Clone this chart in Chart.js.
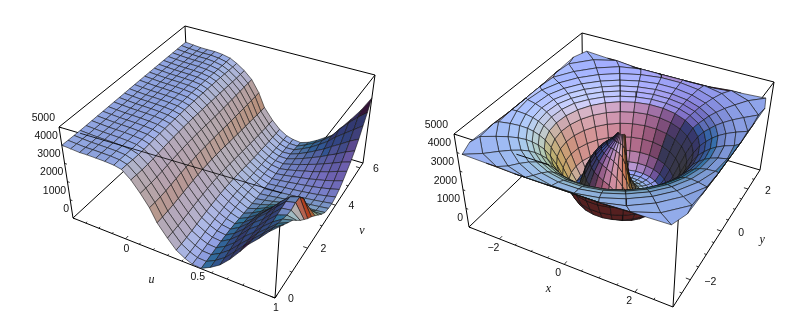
<!DOCTYPE html>
<html>
<head>
<meta charset="utf-8">
<script src="https://cdn.jsdelivr.net/npm/chart.js@4"></script>
<style>body{margin:0;background:#fff}canvas{display:block}</style>
</head>
<body>
<canvas id="surfaces" width="800" height="327"></canvas>
<script>
// left plot, grid over u (rows) and v (columns), heights
var uValues = [-0.4,-0.34,-0.28,-0.23,-0.17,-0.11,-0.05,0,0.06,0.12,0.18,0.23,0.3,0.36,0.42,0.47,0.53,0.59,0.65,0.71,0.77,0.82,0.88,0.94,1];
var vValues = [0,0.26,0.52,0.79,1.05,1.31,1.57,1.83,2.09,2.36,2.62,2.88,3.14,3.4,3.67,3.93,4.19,4.45,4.71,4.97,5.24,5.5,5.76,6.02,6.28];
var uvHeights = [
[4000,3990,3985,3980,3985,3990,3995,4000,4005,4010,4015,4020,4025,4030,4035,4040,4040,4045,4045,4050,4050,4050,4055,4055,4050],
[3950,3945,3940,3940,3945,3950,3955,3960,3965,3970,3975,3980,3985,3990,3995,4000,4000,4005,4005,4010,4010,4010,4010,4005,4000],
[3900,3900,3900,3905,3910,3915,3920,3925,3930,3935,3940,3945,3950,3955,3960,3965,3970,3970,3975,3975,3975,3975,3975,3970,3960],
[3900,3895,3890,3890,3895,3900,3905,3910,3915,3920,3925,3930,3935,3940,3945,3950,3955,3955,3960,3960,3960,3960,3955,3950,3950],
[3875,3875,3870,3870,3875,3880,3885,3890,3895,3900,3905,3910,3915,3920,3925,3930,3935,3935,3940,3945,3945,3950,3950,3950,3950],
[3850,3850,3845,3840,3840,3845,3850,3860,3865,3870,3875,3880,3885,3890,3895,3900,3905,3905,3910,3910,3905,3905,3900,3900,3900],
[3800,3800,3790,3780,3780,3790,3800,3810,3815,3820,3825,3830,3835,3840,3840,3845,3845,3840,3840,3830,3820,3810,3800,3800,3800],
[3700,3680,3650,3640,3640,3660,3680,3700,3710,3720,3725,3730,3730,3730,3725,3720,3710,3700,3690,3680,3660,3640,3620,3600,3600],
[3300,3280,3260,3260,3280,3310,3340,3370,3390,3400,3410,3410,3410,3400,3390,3380,3370,3360,3350,3340,3320,3310,3300,3300,3300],
[2750,2730,2720,2730,2760,2800,2830,2860,2880,2900,2910,2910,2900,2890,2880,2870,2870,2870,2880,2880,2890,2890,2900,2900,2900],
[2150,2130,2130,2150,2190,2230,2270,2300,2320,2340,2350,2350,2340,2330,2320,2300,2290,2280,2270,2260,2260,2250,2250,2250,2250],
[1500,1500,1510,1540,1580,1620,1660,1700,1730,1750,1760,1760,1750,1730,1710,1680,1660,1630,1610,1590,1570,1550,1530,1510,1500],
[900,910,930,960,1000,1050,1090,1130,1160,1180,1190,1190,1170,1150,1120,1090,1060,1030,1000,980,960,940,920,910,900],
[450,460,490,520,570,620,660,700,730,750,760,750,730,710,680,650,620,590,570,550,530,520,510,500,500],
[200,210,240,280,320,360,400,430,450,470,480,470,450,430,410,380,360,340,320,300,290,270,260,250,250],
[50,70,100,140,180,210,240,260,280,290,290,280,270,250,230,210,200,190,180,170,160,150,150,150,150],
[20,50,80,110,140,160,170,160,140,120,100,80,60,50,50,55,70,90,110,130,150,170,170,140,100],
[250,280,320,360,400,420,420,390,350,300,240,180,130,100,90,95,115,150,190,240,290,330,360,340,250],
[550,600,660,720,780,810,800,740,660,550,440,320,220,160,130,140,170,220,290,370,450,530,590,580,500],
[1000,1060,1120,1200,1270,1300,1280,1200,1050,870,680,480,320,220,170,180,230,300,410,520,640,770,880,880,800],
[1550,1560,1570,1590,1620,1650,1680,1650,1450,1200,900,620,400,270,210,230,290,380,520,670,830,1020,1200,1250,1100],
[2050,2020,2000,2000,2020,2050,2100,2080,1850,1450,1050,700,440,320,260,280,350,470,640,820,1030,1270,1550,1750,1650],
[2500,2450,2400,2400,2450,2500,2550,2500,2200,1700,1200,750,480,370,320,340,430,570,780,1000,1250,1550,1900,2250,2250],
[3000,2900,2800,2700,2600,2550,2650,2650,2300,1700,1150,750,500,420,380,420,530,700,950,1200,1500,1850,2250,2700,2900],
[3400,3200,3000,2800,2500,2200,1950,1700,1500,1250,1000,750,550,480,450,520,650,850,1100,1350,1700,2100,2600,3100,3700]
];

// right plot, grid over radius (rows) and angle (columns), heights
var radii = [0.12,0.25,0.4,0.55,0.7,0.85,1,1.15,1.3,1.45,1.6,1.75,1.9,2.05,2.2,2.35,2.5,2.7,2.95,3.25,3.65,4.25];
var angles = [0,12,24,36,48,60,72,84,96,108,120,132,144,156,168,180,192,204,216,228,240,252,264,276,288,300,312,324,336,348,360];
var rtHeights = [
[2000,2000,2000,2000,2000,2000,2100,2100,2200,2300,2400,2600,2800,3000,3300,3500,3520,3540,3560,3580,3600,3600,3600,3600,3600,3600,3600,3600,3550,2600,2000],
[1000,1000,1000,1000,1000,1000,1050,1100,1150,1200,1300,1400,1600,2100,2800,3200,3230,3260,3280,3300,3300,3300,3300,3280,3250,3200,3000,2600,1900,1300,1000],
[500,500,500,500,500,500,520,540,570,600,650,750,900,1400,2300,2950,3000,3020,3040,3050,3050,3050,3040,3000,2900,2700,2300,1700,1200,800,500],
[250,250,250,250,250,250,260,270,280,300,330,380,450,900,1800,2700,2730,2750,2780,2780,2780,2760,2700,2600,2400,2050,1600,1100,700,400,250],
[150,150,150,150,150,150,150,155,160,170,180,200,250,500,1300,2400,2420,2430,2440,2440,2420,2380,2300,2150,1900,1500,1050,700,400,230,150],
[100,100,100,100,100,100,100,100,105,110,115,120,130,250,850,2000,2000,2000,2000,1980,1950,1900,1800,1650,1350,1000,680,430,260,150,100],
[100,100,100,100,100,100,100,100,100,100,100,100,110,130,450,1500,1480,1450,1420,1380,1330,1250,1150,1000,780,560,370,240,160,110,100],
[150,150,150,150,150,150,150,150,150,150,150,150,150,160,220,700,680,650,600,550,500,430,380,320,270,220,180,160,150,150,150],
[450,450,450,450,450,450,450,450,450,450,450,450,450,450,450,450,450,450,450,450,450,450,450,450,450,450,450,450,450,450,450],
[900,900,900,900,900,900,900,900,900,900,900,900,900,900,900,900,900,900,900,900,900,900,900,900,900,900,900,900,900,900,900],
[1500,1500,1500,1500,1500,1500,1500,1500,1500,1500,1500,1500,1500,1500,1500,1500,1500,1500,1500,1500,1500,1500,1500,1500,1500,1500,1500,1500,1500,1500,1500],
[2100,2100,2100,2100,2100,2100,2100,2100,2100,2100,2100,2100,2100,2100,2100,2100,2100,2100,2100,2100,2100,2100,2100,2100,2100,2100,2100,2100,2100,2100,2100],
[2600,2600,2600,2600,2600,2600,2600,2600,2600,2600,2600,2600,2600,2600,2600,2600,2600,2600,2600,2600,2600,2600,2600,2600,2600,2600,2600,2600,2600,2600,2600],
[3000,3000,3000,3000,3000,3000,3000,3000,3000,3000,3000,3000,3000,3000,3000,3000,3000,3000,3000,3000,3000,3000,3000,3000,3000,3000,3000,3000,3000,3000,3000],
[3250,3250,3250,3250,3200,3180,3160,3150,3150,3150,3160,3180,3200,3250,3250,3250,3250,3250,3250,3250,3250,3250,3250,3250,3250,3250,3250,3250,3250,3250,3250],
[3450,3450,3450,3400,3350,3320,3300,3280,3280,3280,3300,3320,3350,3400,3450,3450,3450,3450,3450,3450,3450,3450,3450,3450,3450,3450,3450,3450,3450,3450,3450],
[3600,3600,3600,3550,3500,3460,3440,3420,3420,3420,3440,3460,3500,3550,3600,3600,3600,3600,3600,3600,3600,3600,3600,3600,3600,3600,3600,3600,3600,3600,3600],
[3730,3730,3730,3680,3630,3590,3570,3560,3560,3560,3570,3590,3630,3680,3730,3730,3730,3730,3730,3730,3730,3730,3730,3730,3730,3730,3730,3730,3730,3730,3730],
[3830,3830,3830,3790,3750,3720,3700,3680,3680,3680,3700,3720,3750,3790,3830,3830,3830,3830,3830,3830,3830,3830,3830,3830,3830,3830,3830,3830,3830,3830,3830],
[3900,3900,3900,3870,3840,3820,3800,3790,3790,3790,3800,3820,3840,3870,3900,3900,3900,3900,3900,3900,3900,3900,3900,3900,3900,3900,3900,3900,3900,3900,3900],
[3960,3960,3960,3950,3930,3920,3910,3900,3900,3900,3910,3920,3930,3950,3960,3960,3960,3960,3960,3960,3960,3960,3960,3960,3960,3960,3960,3960,3960,3960,3960],
[4000,4000,4000,4000,4000,4000,4000,4000,4000,4000,4000,4000,4000,4000,4000,4000,4000,4000,4000,4000,4000,4000,4000,4000,4000,4000,4000,4000,4000,4000,4000]
];

// tick labels
var zTicks = [0,1000,2000,3000,4000,5000];
var uTicks = [0,0.5,1];
var vTicks = [0,2,4,6];
var xTicks = [-2,0,2];
var yTicks = [-2,0,2];
var uMinor = [-0.3,-0.2,-0.1,0.1,0.2,0.3,0.4,0.6,0.7,0.8,0.9];
var vMinor = [1,3,5];
var xMinor = [-2.5,-1.5,-1,-0.5,0.5,1,1.5,2.5];
var yMinor = [-2.5,-1.5,-1,-0.5,0.5,1,1.5,2.5];

var Z_MAX = 5000;
var TWO_PI_V = 6.28;

// box corners on the page: front-left, front-right, back-right, back-left
var leftBox = {
  base: [[73,218],[275,298],[363,163],[189,111]],
  top: [[59,127],[282,193],[375,75],[185,26]]
};
var rightBox = {
  base: [[469,227],[673,307],[760,170],[583,118]],
  top: [[454,134],[679,207],[774,82],[582,33]]
};

function squareToQuad(q) {
  var dx1 = q[1][0]-q[2][0], dx2 = q[3][0]-q[2][0], sx = q[0][0]-q[1][0]+q[2][0]-q[3][0];
  var dy1 = q[1][1]-q[2][1], dy2 = q[3][1]-q[2][1], sy = q[0][1]-q[1][1]+q[2][1]-q[3][1];
  var den = dx1*dy2-dx2*dy1;
  var g = (sx*dy2-dx2*sy)/den, h = (dx1*sy-sx*dy1)/den;
  var a = q[1][0]-q[0][0]+g*q[1][0], b = q[3][0]-q[0][0]+h*q[3][0];
  var d = q[1][1]-q[0][1]+g*q[1][1], e = q[3][1]-q[0][1]+h*q[3][1];
  return function(s, t) {
    var w = g*s+h*t+1;
    return [(a*s+b*t+q[0][0])/w, (d*s+e*t+q[0][1])/w];
  };
}

function makeProject(box) {
  var lo = squareToQuad(box.base), hi = squareToQuad(box.top);
  return function(s, t, c) {
    var p = lo(s,t), q = hi(s,t);
    return {x: p[0]+(q[0]-p[0])*c, y: p[1]+(q[1]-p[1])*c};
  };
}

// viewer frame in box units
var VR = [0.879,0.476,0], VU = [-0.281,0.519,0.806], VW = [0.384,-0.709,0.59];
var Z_RATIO = 0.45;
function dot(a,b){ return a[0]*b[0]+a[1]*b[1]+a[2]*b[2]; }

function shade(p, dim, burn) {
  // p: four box points, normal from the diagonals
  var d1 = [p[2][0]-p[0][0],p[2][1]-p[0][1],(p[2][2]-p[0][2])*Z_RATIO];
  var d2 = [p[3][0]-p[1][0],p[3][1]-p[1][1],(p[3][2]-p[1][2])*Z_RATIO];
  var n = [d1[1]*d2[2]-d1[2]*d2[1], d1[2]*d2[0]-d1[0]*d2[2], d1[0]*d2[1]-d1[1]*d2[0]];
  var len = Math.sqrt(dot(n,n)) || 1;
  n = [n[0]/len,n[1]/len,n[2]/len];
  if (n[2] < 0) n = [-n[0],-n[1],-n[2]];
  var nr = dot(n,VR), nu = dot(n,VU), nw = dot(n,VW);
  if (nw < 0) return 'rgb(85,32,32)';
  var r = Math.max(0,(nr+nw)/1.414), g = Math.max(0,(nr+nu+nw)/1.732), b = Math.max(0,(nu+nw)/1.414);
  var head = Math.max(0,nw-0.72), low = burn*Math.max(0,0.62-b);
  var R = 55+150*Math.sqrt(r)+75*head;
  var G = 55+200*Math.pow(g,1.5)-60*r+220*head-700*low;
  var B = 120+240*(b-0.637)+90*r*b+75*head-600*low;
  var c = function(v){ return Math.round(Math.min(255,Math.max(20,v*dim))); };
  return 'rgb('+c(R)+','+c(G)+','+c(B)+')';
}

function surface(project, rows, cols, pointAt, lineColor, dim, burnFrom) {
  var quads = [];
  for (var i = 0; i < rows-1; i++) {
    for (var j = 0; j < cols-1; j++) {
      var p = [pointAt(i,j),pointAt(i+1,j),pointAt(i+1,j+1),pointAt(i,j+1)];
      var cx = (p[0][0]+p[1][0]+p[2][0]+p[3][0])/4;
      var cy = (p[0][1]+p[1][1]+p[2][1]+p[3][1])/4;
      var cz = (p[0][2]+p[1][2]+p[2][2]+p[3][2])/4*Z_RATIO;
      var pts = p.map(function(k){ return project(k[0],k[1],k[2]); });
      pts.push(pts[0]);
      quads.push({depth: dot([cx-0.5,cy-0.5,cz],VW), data: pts, color: shade(p,dim,i >= burnFrom ? 1 : 0)});
    }
  }
  // chart.js paints the first dataset last, nearest quads go first
  quads.sort(function(a,b){ return b.depth-a.depth; });
  return quads.map(function(q) {
    return {
      data: q.data, showLine: true, fill: 'shape', backgroundColor: q.color,
      borderColor: lineColor, borderWidth: 0.6, pointRadius: 0, tension: 0, clip: false
    };
  });
}

function lineSet(a, b, width) {
  return {data: [a,b], showLine: true, fill: false, borderColor: '#000', borderWidth: width, pointRadius: 0, tension: 0, clip: false};
}

function boxLines(project) {
  var out = [], corners = [[0,0],[1,0],[1,1],[0,1]];
  for (var i = 0; i < 4; i++) {
    var a = corners[i], b = corners[(i+1)%4];
    out.push(lineSet(project(a[0],a[1],0),project(b[0],b[1],0),1));
    out.push(lineSet(project(a[0],a[1],1),project(b[0],b[1],1),1));
    out.push(lineSet(project(a[0],a[1],0),project(a[0],a[1],1),1));
  }
  return out;
}

function tickLines(project, sOf, tOf) {
  var out = [];
  zTicks.forEach(function(z) {
    out.push(lineSet(project(0,0,z/Z_MAX),project(0.012,0,z/Z_MAX),0.8));
  });
  function along(list, fn, len) {
    list.forEach(function(v) { out.push(fn(v,len)); });
  }
  var onS = function(v,len){ var s = sOf(v); return lineSet(project(s,0,0),project(s,len,0),0.8); };
  var onT = function(v,len){ var t = tOf(v); return lineSet(project(1,t,0),project(1-len,t,0),0.8); };
  return {z: out, onS: onS, onT: onT, along: along};
}

var projectL = makeProject(leftBox), projectR = makeProject(rightBox);
var sU = function(u){ return (u-uValues[0])/(uValues[uValues.length-1]-uValues[0]); };
var tV = function(v){ return v/TWO_PI_V; };
var sX = function(x){ return (x+3)/6; };
var tY = function(y){ return (y+3)/6; };

var leftQuads = surface(projectL, uValues.length, vValues.length, function(i,j) {
  return [sU(uValues[i]), tV(vValues[j]), uvHeights[i][j]/Z_MAX];
}, '#151515', 0.9, 20);

var rightQuads = surface(projectR, radii.length, angles.length, function(i,j) {
  var th = angles[j]*Math.PI/180;
  var x = radii[i]*Math.cos(th), y = radii[i]*Math.sin(th);
  // rings past the square edge lie on it, they keep the height where they first met it
  var k = i;
  while (k > 0 && Math.max(Math.abs(radii[k-1]*Math.cos(th)),Math.abs(radii[k-1]*Math.sin(th))) >= 3) k--;
  return [sX(Math.max(-3,Math.min(3,x))), tY(Math.max(-3,Math.min(3,y))), rtHeights[k][j]/Z_MAX];
}, '#101010', 1, radii.length);

var furniture = [];
[projectL,projectR].forEach(function(pr) { furniture = furniture.concat(boxLines(pr)); });
var tl = tickLines(projectL,sU,tV), tr = tickLines(projectR,sX,tY);
furniture = furniture.concat(tl.z, tr.z);
tl.along(uTicks, function(v){ furniture.push(tl.onS(v,0.02)); }, 0);
tl.along(uMinor, function(v){ furniture.push(tl.onS(v,0.01)); }, 0);
tl.along(vTicks, function(v){ furniture.push(tl.onT(v,0.02)); }, 0);
tl.along(vMinor, function(v){ furniture.push(tl.onT(v,0.01)); }, 0);
tr.along(xTicks, function(v){ furniture.push(tr.onS(v,0.02)); }, 0);
tr.along(xMinor, function(v){ furniture.push(tr.onS(v,0.01)); }, 0);
tr.along(yTicks, function(v){ furniture.push(tr.onT(v,0.02)); }, 0);
tr.along(yMinor, function(v){ furniture.push(tr.onT(v,0.01)); }, 0);

// the front top edge of the box shows through the surface in the picture
var frontEdges = [
  lineSet(projectL(0.1,0,1),projectL(1,0,1),0.8),
  lineSet(projectR(0.3,0,1),projectR(0.45,0,1),0.9)
];

var tickText = {
  id: 'tickText',
  afterDraw: function(chart) {
    var ctx = chart.ctx, sx = chart.scales.x, sy = chart.scales.y;
    function put(p, dx, dy, text, align, font) {
      ctx.font = font;
      ctx.textAlign = align;
      ctx.textBaseline = 'middle';
      ctx.fillStyle = '#111';
      ctx.fillText(text, sx.getPixelForValue(p.x)+dx, sy.getPixelForValue(p.y)+dy);
    }
    var num = '10.5px "Liberation Sans"', ital = 'italic 12px "Liberation Serif"';
    function fmt(v){ return v < 0 ? '\u2212'+(-v) : String(v); }
    zTicks.forEach(function(z) {
      put(projectL(0,0,z/Z_MAX), -4, -9, fmt(z), 'right', num);
      put(projectR(0,0,z/Z_MAX), -6, -9, fmt(z), 'right', num);
    });
    uTicks.forEach(function(v){ put(projectL(sU(v),0,0), 1, 10, fmt(v), 'center', num); });
    vTicks.forEach(function(v){ put(projectL(1,tV(v),0), 16, 1, fmt(v), 'center', num); });
    xTicks.forEach(function(v){ put(projectR(sX(v),0,0), -6, 9, fmt(v), 'center', num); });
    yTicks.forEach(function(v){ put(projectR(1,tY(v),0), 20, 2, fmt(v), 'center', num); });
    put(projectL(0.5,0,0), -16, 24, 'u', 'center', ital);
    put(projectL(1,0.5,0), 38, 8, 'v', 'center', ital);
    put(projectR(0.5,0,0), -16, 24, 'x', 'center', ital);
    put(projectR(1,0.5,0), 41, 9, 'y', 'center', ital);
  }
};

new Chart('surfaces', {
  type: 'scatter',
  data: {datasets: frontEdges.concat(leftQuads, rightQuads, furniture)},
  options: {
    responsive: false,
    animation: false,
    events: [],
    layout: {padding: 0},
    plugins: {legend: {display: false}, tooltip: {enabled: false}, title: {display: false}},
    scales: {
      x: {type: 'linear', min: 0, max: 800, display: false},
      y: {type: 'linear', min: 0, max: 327, reverse: true, display: false}
    }
  },
  plugins: [tickText]
});
</script>
</body>
</html>
